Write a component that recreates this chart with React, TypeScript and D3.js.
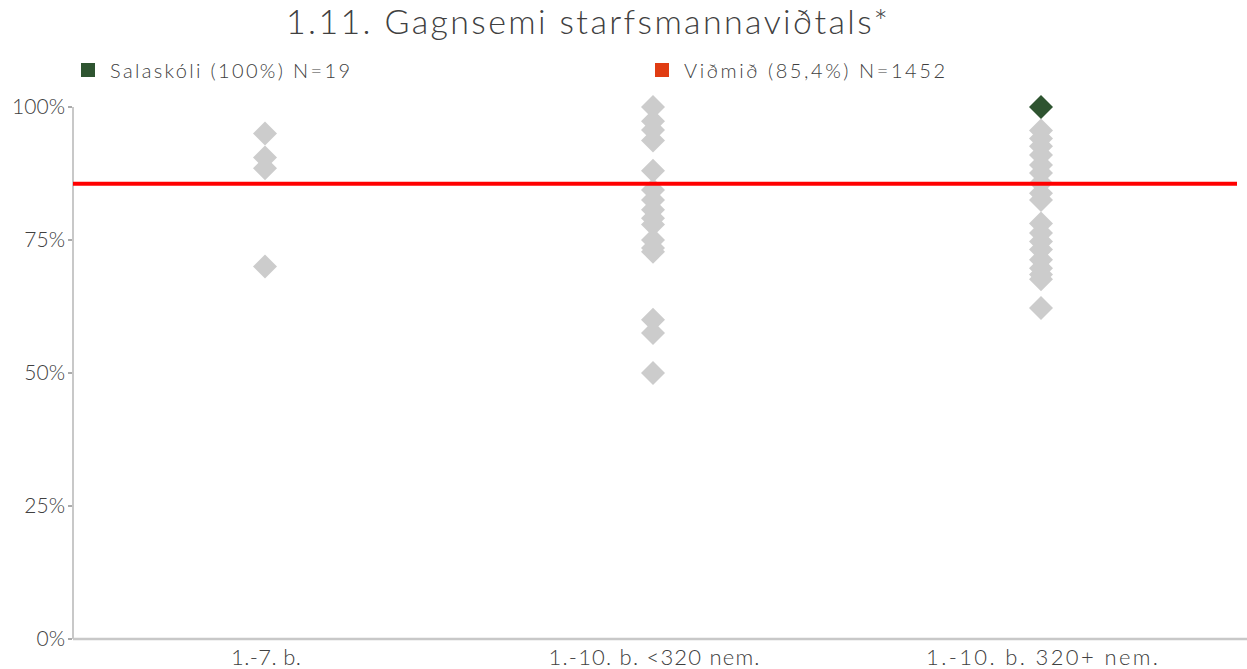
import React from "react";
import * as d3 from "d3";

const title = "1.11. Gagnsemi starfsmannaviðtals*";
const categories = ["1.-7. b.", "1.-10. b. <320 nem.", "1.-10. b. 320+ nem."];
const categoryWidths = [70, 211, 232];
const legendLabels = ["Salaskóli (100%) N=19", "Viðmið (85,4%) N=1452"];
const benchmark = 85.4;
const yTicks = [0, 25, 50, 75, 100];

const others1 = [95, 90.5, 88.5, 70];
const others2 = [100, 97.3, 95.7, 93.7, 88, 84.4, 82.5, 80.7, 79.1, 77.9, 75, 73.5, 72.8, 60, 57.5, 50];
const others3 = [95.6, 94.1, 92.6, 91, 89.1, 87.6, 85.7, 83.8, 82.5, 78.1, 76.3, 74.7, 73.2, 71.3, 69.7, 68.5, 67.6, 62.2];
const schoolCategory = categories[2];
const schoolValue = 100;

const W = 1247;
const H = 669;
const margin = { left: 73, right: 10, top: 107, bottom: 29 };

export default function App() {
  const x = d3
    .scaleBand<string>()
    .domain(categories)
    .range([72, 1236]);
  const y = d3
    .scaleLinear()
    .domain([0, 100])
    .range([H - margin.bottom - 1, margin.top]);

  const others = [others1, others2, others3];
  const dPath = (cx: number, cy: number, s: number) =>
    `M${cx},${cy - s}L${cx + s},${cy}L${cx},${cy + s}L${cx - s},${cy}Z`;

  const font = "Lato, 'Open Sans', sans-serif";
  const textColor = "#404040";
  const x0 = 73;

  return (
    <svg
      width={W}
      height={H}
      style={{ position: "absolute", left: 0, top: 0, background: "#fff" }}
      fontFamily={font}
      fontWeight={300}
    >
      <text x={286} y={34} fontSize={34} fill={textColor} textLength={602} lengthAdjust="spacing">
        {title}
      </text>
      {/* legend */}
      <rect x={81} y={63} width={14} height={14} fill="#2e5430" />
      <text x={110} y={78} fontSize={20} fill={textColor} textLength={240} lengthAdjust="spacing">
        {legendLabels[0]}
      </text>
      <rect x={655} y={63} width={14} height={14} fill="#e03c12" />
      <text x={684} y={78} fontSize={20} fill={textColor} textLength={261} lengthAdjust="spacing">
        {legendLabels[1]}
      </text>

      {/* y axis */}
      <line x1={x0} x2={x0} y1={y(100)} y2={y(0)} stroke="#c8c8c8" strokeWidth={2} />
      {yTicks.map((t) => (
        <g key={t}>
          <line x1={x0 - 5} x2={x0 - 1} y1={y(t)} y2={y(t)} stroke="#595959" strokeWidth={1} />
          <text
            x={x0 - 8}
            y={y(t)}
            dy="0.35em"
            textAnchor="end"
            fontSize={21}
            fill={textColor}
          >
            {t}%
          </text>
        </g>
      ))}
      {/* x axis */}
      <line x1={x0} x2={W} y1={y(0)} y2={y(0)} stroke="#c8c8c8" strokeWidth={2.5} />
      {categories.map((c, i) => (
        <text
          key={c}
          x={(x(c) as number) + x.bandwidth() / 2 - categoryWidths[i] / 2}
          y={665}
          fontSize={22}
          fill={textColor}
          textLength={categoryWidths[i]}
          lengthAdjust="spacing"
        >
          {c}
        </text>
      ))}

      {/* points */}
      {categories.map((c, i) =>
        others[i].map((v, j) => (
          <path
            key={`${i}-${j}`}
            d={dPath((x(c) as number) + x.bandwidth() / 2 - 1, y(v), 12)}
            fill="#cccccc"
          />
        ))
      )}
      <path
        d={dPath((x(schoolCategory) as number) + x.bandwidth() / 2 - 1, y(schoolValue), 12)}
        fill="#2e5430"
      />

      {/* benchmark */}
      <line
        x1={x0}
        x2={W - 10}
        y1={y(benchmark) - 1}
        y2={y(benchmark) - 1}
        stroke="#ff0000"
        strokeWidth={4}
      />
    </svg>
  );
}
